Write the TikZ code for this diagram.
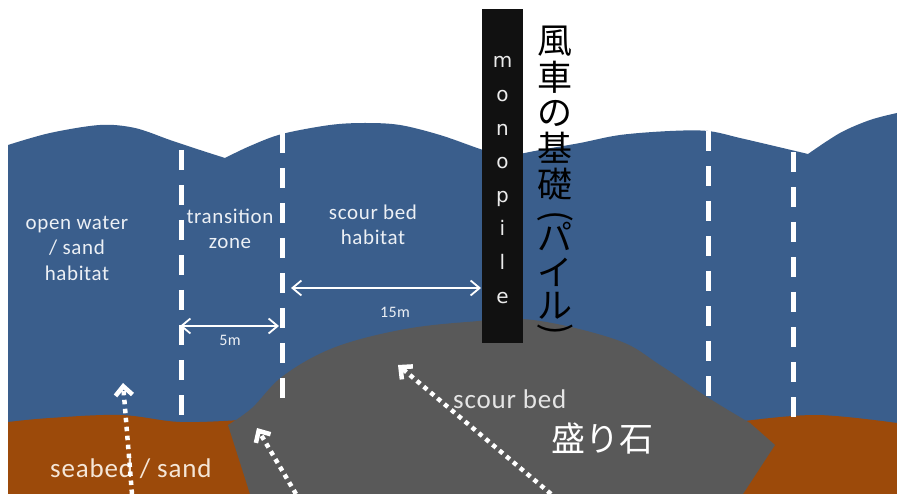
\documentclass[tikz,border=0pt]{standalone}
\usepackage{fontspec}
\usepackage{graphicx}
\setmainfont[LetterSpace=3]{Carlito}
\newfontfamily\jpfont{Noto Sans CJK JP}
\newfontfamily\pilefont{DejaVu Sans}
\usetikzlibrary{arrows.meta}

\definecolor{water}{RGB}{58,94,140}
\definecolor{rock}{RGB}{89,89,89}
\definecolor{sand}{RGB}{156,74,10}
\definecolor{pileblack}{RGB}{17,17,17}
\definecolor{labelwhite}{RGB}{236,240,245}

\tikzset{
  zoneline/.style={white, line width=5pt, dash pattern=on 20pt off 15pt},
  dimarrow/.style={white, line width=1.8pt,
    arrows={Straight Barb[length=9pt,width=15pt]-Straight Barb[length=9pt,width=15pt]}},
  flowarrow/.style={white, line width=4.5pt, dash pattern=on 4.5pt off 4.5pt,
    -{Straight Barb[length=9pt,width=17pt]}},
  zonelabel/.style={text=labelwhite, font=\fontsize{21}{25.5}\selectfont, align=center, inner sep=0pt},
  dimlabel/.style={text=labelwhite, font=\fontsize{16}{19}\selectfont, inner sep=0pt},
  biglabel/.style={font=\fontsize{27}{30}\selectfont, inner sep=0pt, anchor=base west},
  pileletter/.style={text=white!92!black, font=\pilefont\fontsize{20}{22}\selectfont, inner sep=0pt, anchor=base},
  jpchar/.style={font=\jpfont\fontsize{35}{35}\selectfont, inner sep=0pt},
}

\begin{document}
\begin{tikzpicture}[x=1pt,y=-1pt]
\useasboundingbox (0,0) rectangle (897,494);
\fill[white] (0,0) rectangle (897,494);

% sea water with a wavy surface
\fill[water] (8,494) -- (8,145)
  -- plot[smooth, tension=0.55] coordinates {(8,145) (50,133) (100,125) (135,128) (170,140) (200,150) (225,158)}
  -- plot[smooth, tension=0.55] coordinates {(225,158) (250,146) (282,134) (330,125) (365,123) (400,125) (440,135) (480,149) (505,157)}
  -- plot[smooth, tension=0.55] coordinates {(505,157) (540,150) (580,143) (620,135) (670,131) (708,131) (740,138) (770,145) (808,154)}
  -- plot[smooth, tension=0.55] coordinates {(808,154) (840,133) (870,120) (897,113)}
  -- (897,494) -- cycle;

% sandy seabed, left and right
\fill[sand] (8,494) -- (8,422)
  -- plot[smooth, tension=0.6] coordinates {(8,422) (50,418) (120,415) (180,422) (240,420)}
  -- (262,494) -- cycle;
\fill[sand] (740,494) -- (745,421)
  -- plot[smooth, tension=0.6] coordinates {(745,421) (817,415) (897,423)}
  -- (897,494) -- cycle;

% rock scour bed around the pile
\fill[rock] (250,494) -- (228,425)
  -- plot[smooth, tension=0.6] coordinates {(228,425) (252,408) (283,376) (333,348) (400,330) (467,322) (533,320) (617,340) (660,365) (707,397) (750,423)}
  -- (775,445) -- (743,494) -- cycle;

% zone boundaries
\coordinate (z1t) at (181,150); \coordinate (z1b) at (181,425);
\coordinate (z2t) at (282,133); \coordinate (z2b) at (282,400);
\coordinate (z3t) at (708,131); \coordinate (z3b) at (708,400);
\coordinate (z4t) at (793,152); \coordinate (z4b) at (793,418);
\draw[zoneline] (z1t) -- (z1b);
\draw[zoneline] (z2t) -- (z2b);
\draw[zoneline] (z3t) -- (z3b);
\draw[zoneline] (z4t) -- (z4b);

% monopile
\node[fill=pileblack, minimum width=41pt, minimum height=334pt, inner sep=0pt] (pile) at (502.5,176) {};
\foreach \c [count=\i] in {m,o,n,o,p,i,l,e}
  \node[pileletter] (pl\i) at (502.5,{68+33.6*(\i-1)}) {\c};

% vertical Japanese caption
\foreach \c/\yy [count=\i] in {風/41, 車/77, の/113, 基/148, 礎/184, パ/236, イ/272, ル/306}
  \node[jpchar] (jp\i) at (555,\yy) {\c};
\node[jpchar] (jplp) at (555,216) {\rotatebox{-90}{(}};
\node[jpchar] (jprp) at (555,329) {\rotatebox{-90}{)}};

% zone labels
\node[zonelabel] (openwater) at (77,248) {open water\\/ sand\\habitat};
\node[zonelabel] (transition) at (230,229) {transition\\zone};
\node[zonelabel] (scourhab) at (373,225) {scour bed\\habitat};

% distances
\coordinate (d5l) at (180,326); \coordinate (d5r) at (279,326);
\coordinate (d15l) at (291,288); \coordinate (d15r) at (481,288);
\draw[dimarrow] (d5l) -- (d5r);
\draw[dimarrow] (d15l) -- (d15r);
\node[dimlabel, anchor=base] (five) at (230,345) {5m};
\node[dimlabel, anchor=base] (fifteen) at (395,318) {15m};

% material labels
\node[biglabel, text=white!90!black] (scourbed) at (453,408) {scour bed};
\node[biglabel, text={rgb,255:red,245;green,230;blue,215}] (seabed) at (50,477) {seabed / sand};
\node[font=\jpfont\fontsize{34}{34}\selectfont, text=white, inner sep=0pt] (moriishi) at (602,439) {盛り石};

% flow arrows
\coordinate (f1s) at (132,494); \coordinate (f1e) at (123,383);
\coordinate (f2s) at (296,494); \coordinate (f2e) at (257,428);
\coordinate (f3s) at (551,494); \coordinate (f3e) at (398,365);
\draw[flowarrow] (f1s) -- (f1e);
\draw[flowarrow] (f2s) -- (f2e);
\draw[flowarrow] (f3s) -- (f3e);
\end{tikzpicture}
\end{document}
